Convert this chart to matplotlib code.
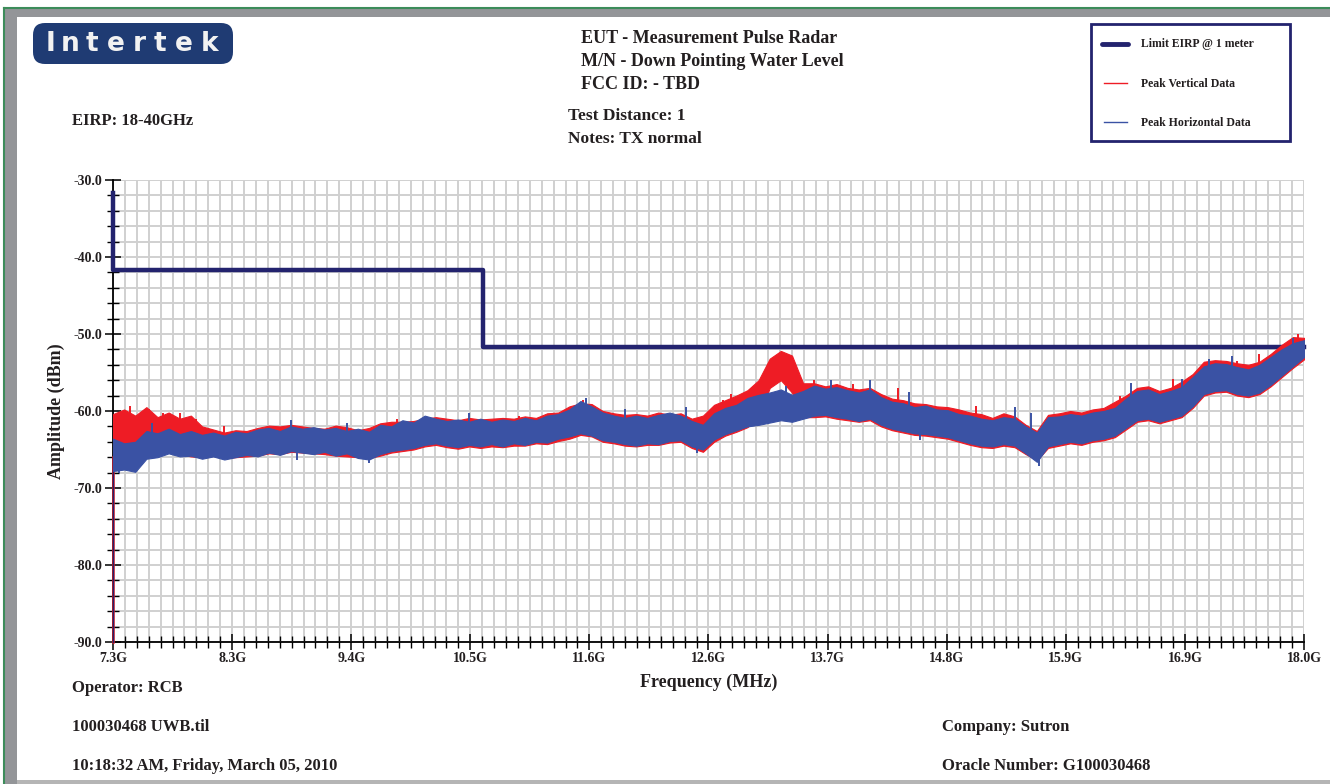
#EIRP 18-40GHz - Intertek test report plot
import matplotlib.pyplot as plt
import numpy as np
from matplotlib.patches import FancyBboxPatch, Rectangle
from matplotlib.textpath import TextPath
from matplotlib.font_manager import FontProperties

plt.rcParams['font.family'] = ['Liberation Serif', 'DejaVu Serif']

W, H = 1330, 784

# sweep samples every 0.1 GHz, 7.3 .. 18.0
freq = np.round(np.arange(7.3, 18.05, 0.1), 1)

# Peak Horizontal Data (blue) - lower / upper edge of the noisy trace, dBm
horiz_lo = [-67.8, -67.6, -67.9, -66.2, -66.0, -65.5, -65.9, -65.8, -66.2, -65.9,
            -66.3, -66.0, -65.7, -65.9, -65.4, -65.7, -65.2, -65.4, -65.6, -65.3,
            -65.8, -65.5, -66.1, -66.3, -65.6, -65.2, -65.0, -64.8, -64.4, -64.2,
            -64.5, -64.7, -64.4, -64.6, -64.3, -64.6, -64.2, -64.4, -64.0, -64.1,
            -63.6, -63.3, -62.9, -63.2, -63.8, -64.0, -64.3, -64.5, -64.2, -64.3,
            -63.9, -63.8, -64.6, -65.0, -63.7, -63.0, -62.5, -62.0, -61.8, -61.5,
            -61.2, -61.4, -61.0, -60.6, -60.5, -60.8, -61.0, -61.3, -61.0, -61.8,
            -62.3, -62.6, -62.9, -63.0, -63.2, -63.4, -63.8, -64.2, -64.5, -64.6,
            -64.3, -64.5, -65.5, -66.6, -64.6, -64.3, -64.0, -64.2, -63.8, -63.6,
            -63.2, -62.2, -61.2, -61.0, -61.4, -61.0, -60.6, -59.4, -57.8, -57.4,
            -57.3, -57.8, -58.0, -57.6, -56.6, -55.4, -54.2, -53.0]
horiz_hi = [-63.6, -64.2, -64.0, -62.6, -62.9, -62.3, -63.0, -62.6, -63.1, -62.8,
            -63.2, -62.7, -62.9, -62.4, -62.2, -62.6, -62.0, -62.3, -62.1, -62.4,
            -62.2, -62.6, -62.3, -62.7, -61.8, -62.0, -61.2, -61.5, -60.6, -61.0,
            -61.3, -61.1, -61.4, -61.0, -61.4, -61.1, -61.3, -60.9, -61.2, -60.6,
            -60.4, -59.8, -58.7, -59.4, -60.2, -60.6, -60.9, -60.6, -60.9, -60.5,
            -60.2, -60.6, -61.3, -61.8, -60.3, -59.6, -59.2, -58.3, -57.9, -57.6,
            -57.2, -57.9, -57.4, -56.7, -57.1, -56.9, -57.3, -57.6, -57.2, -58.2,
            -58.8, -59.0, -59.5, -59.3, -59.8, -59.9, -60.4, -60.6, -61.0, -61.2,
            -60.8, -61.0, -62.0, -62.8, -60.8, -60.7, -60.4, -60.6, -60.2, -60.0,
            -59.6, -58.4, -57.4, -57.2, -57.8, -57.4, -56.9, -55.6, -54.2, -53.8,
            -53.9, -54.3, -54.6, -54.0, -53.0, -52.0, -51.2, -50.8]

# Peak Vertical Data (red)
vert_lo = [-67.3, -66.8, -66.2, -65.8, -65.6, -65.3, -65.6, -65.9, -66.0, -65.8,
           -66.1, -66.0, -65.9, -65.8, -65.5, -65.6, -65.3, -65.4, -65.5, -65.6,
           -65.8, -65.9, -66.0, -66.1, -65.8, -65.4, -65.2, -65.0, -64.6, -64.4,
           -64.7, -64.9, -64.6, -64.8, -64.6, -64.7, -64.5, -64.5, -64.2, -64.3,
           -63.9, -63.6, -63.1, -63.3, -64.0, -64.2, -64.5, -64.6, -64.4, -64.4,
           -64.1, -64.0, -64.8, -65.3, -64.0, -63.2, -62.7, -62.1, -60.8, -57.0,
           -56.0, -57.6, -60.8, -60.8, -60.7, -61.0, -61.2, -61.4, -61.2, -62.0,
           -62.5, -62.8, -63.1, -63.2, -63.4, -63.6, -64.0, -64.4, -64.7, -64.8,
           -64.5, -64.7, -65.6, -66.4, -64.8, -64.5, -64.2, -64.4, -64.0, -63.8,
           -63.4, -62.4, -61.4, -61.2, -61.6, -61.2, -60.8, -59.6, -58.0, -57.6,
           -57.5, -58.0, -58.2, -57.8, -56.8, -55.6, -54.4, -53.3]
vert_hi = [-60.4, -59.8, -60.6, -59.5, -60.8, -60.2, -61.0, -60.6, -62.0, -62.4,
           -62.8, -62.5, -62.6, -62.2, -61.9, -62.0, -61.8, -62.0, -62.2, -62.3,
           -61.9, -62.1, -62.5, -62.2, -61.6, -61.4, -61.4, -61.3, -61.0, -60.8,
           -61.0, -61.2, -60.9, -61.1, -61.0, -60.9, -61.0, -60.7, -60.9, -60.3,
           -60.2, -59.4, -59.0, -59.1, -60.0, -60.3, -60.5, -60.4, -60.6, -60.2,
           -60.5, -60.3, -61.0, -60.6, -59.2, -58.6, -58.0, -57.3, -56.0, -53.2,
           -52.2, -52.8, -56.4, -56.4, -56.8, -56.5, -57.0, -57.2, -57.0, -57.8,
           -58.4, -58.6, -59.0, -59.1, -59.4, -59.5, -59.8, -60.2, -60.4, -60.9,
           -60.3, -60.7, -61.8, -62.6, -60.5, -60.3, -60.0, -60.2, -59.8, -59.6,
           -58.8, -58.0, -57.0, -56.8, -57.4, -57.0, -56.2, -55.2, -53.6, -53.4,
           -53.5, -53.8, -54.0, -53.6, -52.6, -51.4, -50.4, -50.5]

# isolated spikes standing out of each trace (GHz, dBm)
vert_spike_f = [7.45, 7.62, 7.75, 7.9, 8.05, 8.3, 9.85, 10.95, 11.52, 12.78, 12.85,
                13.05, 13.6, 13.95, 14.35, 15.05, 16.35, 16.82, 17.4, 17.6, 17.95]
vert_spike_db = [-59.4, -59.8, -60.3, -60.2, -61.0, -62.0, -61.0, -60.6, -58.6, -58.6,
                 -57.8, -57.0, -56.0, -56.5, -57.0, -59.4, -58.0, -55.8, -53.5, -52.6,
                 -50.0]
horiz_spike_f = [7.65, 8.9, 9.4, 10.5, 11.55, 11.9, 12.45, 13.35, 13.75, 14.1, 14.45,
                 15.4, 15.55, 16.45, 16.9, 17.15, 17.35, 17.9,
                 7.35, 8.95, 9.6, 12.55, 15.62, 14.55]
horiz_spike_db = [-61.5, -61.2, -61.5, -60.3, -58.3, -59.8, -59.5, -56.8, -56.0, -56.0,
                  -57.5, -59.5, -60.3, -56.4, -55.8, -53.3, -52.8, -50.5,
                  -68.0, -66.3, -66.8, -65.5, -67.2, -63.8]

# first sweep point sits at the bottom of the scale
start_drop = [-90.0, -66.0]

# Limit EIRP @ 1 meter
limit_f = [7.3, 7.3, 10.62, 10.62, 18.0]
limit_db = [-31.7, -41.7, -41.7, -51.7, -51.7]

x_major = np.linspace(7.3, 18.0, 11)
x_labels = ['7.3G', '8.3G', '9.4G', '10.5G', '11.6G', '12.6G', '13.7G', '14.8G',
            '15.9G', '16.9G', '18.0G']
y_major = [-90, -80, -70, -60, -50, -40, -30]

red = '#ee1c25'
blue = '#3a52a4'
navy = '#23236e'
ink = '#231f20'

fig = plt.figure(figsize=(W / 100, H / 100), dpi=100)

# background layer in pixel coordinates
bg = fig.add_axes([0, 0, 1, 1])
bg.set_xlim(0, W)
bg.set_ylim(H, 0)
bg.axis('off')
bg.add_patch(Rectangle((5, 9), W, 8, color='#939598', lw=0))
bg.add_patch(Rectangle((5, 9), 12, H, color='#939598', lw=0))
bg.plot([4, W], [8, 8], color='#3c8c5a', lw=1.5)
bg.plot([4, 4], [8, H], color='#3c8c5a', lw=1.5)
bg.add_patch(Rectangle((17, 780), W, 4, color='#b5b5b5', lw=0))

# logo, letters spread out like the original
bg.add_patch(FancyBboxPatch((40, 30), 186, 27, boxstyle='round,pad=7,rounding_size=12',
                            fc='#1f3b73', ec='none'))
logo_font = FontProperties(family='DejaVu Sans', weight='bold', size=19)
x0 = 46
for ch in 'Intertek':
    bg.text(x0, 44, ch, color='#f2f2f2', fontproperties=logo_font, ha='left', va='center')
    x0 += TextPath((0, 0), ch, prop=logo_font).get_extents().width * 100 / 72 + 10

def put(x, y, s, size=12.5):
    bg.text(x, y, s, fontsize=size, fontweight='bold', va='center', color=ink)

put(581, 38, 'EUT - Measurement Pulse Radar', 13)
put(581, 61, 'M/N - Down Pointing Water Level', 13)
put(581, 84, 'FCC ID: - TBD', 13)
put(568, 116, 'Test Distance: 1', 12.5)
put(568, 139, 'Notes: TX normal', 12.5)
put(72, 121, 'EIRP: 18-40GHz', 12)
put(72, 688, 'Operator: RCB', 12)
put(72, 727, '100030468 UWB.til', 12)
put(72, 766, '10:18:32 AM, Friday, March 05, 2010', 12)
put(942, 727, 'Company: Sutron', 12)
put(942, 766, 'Oracle Number: G100030468', 12)

# legend box
bg.add_patch(Rectangle((1091, 24), 199, 117, fc='white', ec=navy, lw=2))
bg.plot([1102, 1128], [44, 44], color=navy, lw=3.5, solid_capstyle='round')
bg.plot([1104, 1127], [83, 83], color=red, lw=1)
bg.plot([1104, 1127], [122, 122], color=blue, lw=1)
put(1141, 44, 'Limit EIRP @ 1 meter', 8.5)
put(1141, 84, 'Peak Vertical Data', 8.5)
put(1141, 123, 'Peak Horizontal Data', 8.5)

# main plot
ax = fig.add_axes([113 / W, 1 - 642 / H, (1304 - 113) / W, (642 - 180) / H])
ax.set_xlim(7.3, 18.0)
ax.set_ylim(-90, -30)
ax.set_xticks(x_major)
ax.set_xticklabels(x_labels)
ax.set_xticks(np.linspace(7.3, 18.0, 101), minor=True)
ax.set_yticks(y_major)
ax.set_yticklabels(['%.1f' % v for v in y_major])
ax.set_yticks(np.arange(-90, -29, 2), minor=True)
ax.grid(which='both', color='#d0d0d0', lw=1.4)
ax.set_axisbelow(True)
for s in ['top', 'right']:
    ax.spines[s].set_visible(False)
for s in ['left', 'bottom']:
    ax.spines[s].set_linewidth(1.3)
ax.tick_params(which='major', direction='inout', length=11, width=1.1, labelsize=10,
               pad=2, labelcolor=ink)
ax.tick_params(which='minor', direction='inout', length=8, width=1.0)
for lab in ax.get_xticklabels() + ax.get_yticklabels():
    lab.set_fontweight('bold')

ax.plot(limit_f, limit_db, color=navy, lw=3.2, zorder=3, clip_on=False)

# red trace
ax.plot([freq[0], freq[0]], start_drop, color=red, lw=1.8, zorder=4, clip_on=False)
ax.fill_between(freq, vert_lo, vert_hi, color=red, lw=0.8, zorder=4)
mid_v = np.interp(vert_spike_f, freq, (np.array(vert_lo) + np.array(vert_hi)) / 2)
ax.vlines(vert_spike_f, mid_v, vert_spike_db, color=red, lw=1.4, zorder=4)

# blue trace on top
ax.plot([freq[0], freq[0]], start_drop, color=navy, lw=1.0, zorder=5, clip_on=False)
ax.fill_between(freq, horiz_lo, horiz_hi, color=blue, lw=0.8, zorder=5)
mid_h = np.interp(horiz_spike_f, freq, (np.array(horiz_lo) + np.array(horiz_hi)) / 2)
ax.vlines(horiz_spike_f, mid_h, horiz_spike_db, color=blue, lw=1.4, zorder=5)

ax.set_ylabel('Amplitude (dBm)', fontsize=13, fontweight='bold', labelpad=6, color=ink)
ax.set_xlabel('Frequency (MHz)', fontsize=13, fontweight='bold', labelpad=6, color=ink)

fig.savefig('out.png', dpi=100)
